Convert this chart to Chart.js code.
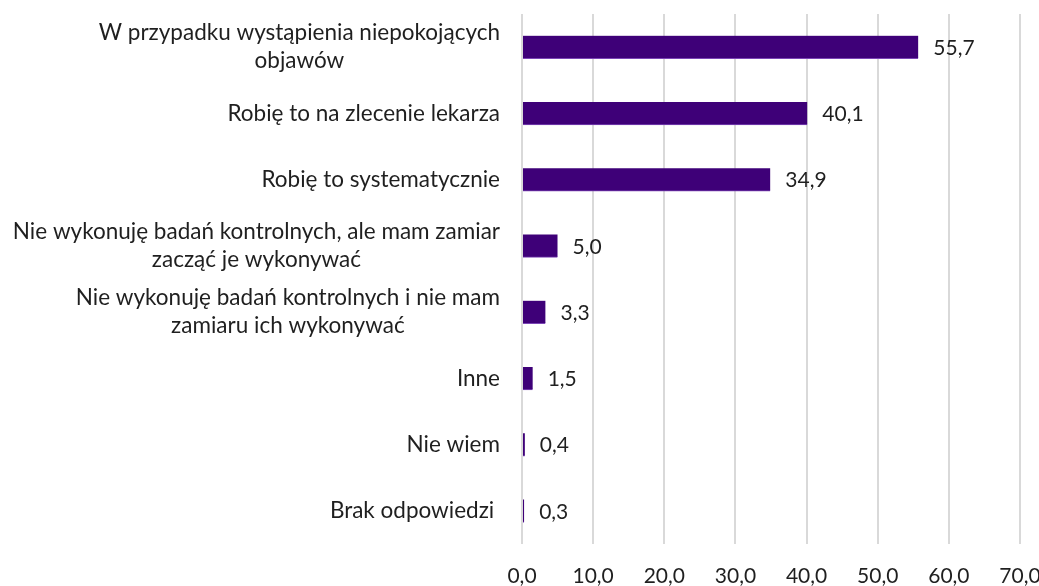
<!DOCTYPE html>
<html>
<head>
<meta charset="utf-8">
<script src="https://cdn.jsdelivr.net/npm/chart.js@4/dist/chart.umd.min.js"></script>
<style>
  html, body { margin: 0; padding: 0; background: #ffffff; }
  #wrap { width: 1039px; height: 586px; position: relative; }
</style>
</head>
<body>
<div id="wrap"><canvas id="c"></canvas></div>
<script>
const categories = [
  ["W przypadku wystąpienia niepokojących", "objawów"],
  ["Robię to na zlecenie lekarza"],
  ["Robię to systematycznie"],
  ["Nie wykonuję badań kontrolnych, ale mam zamiar", "zacząć je wykonywać"],
  ["Nie wykonuję badań kontrolnych i nie mam", "zamiaru ich wykonywać"],
  ["Inne"],
  ["Nie wiem"],
  ["Brak odpowiedzi "]
];
const values = [55.7, 40.1, 34.9, 5.0, 3.3, 1.5, 0.4, 0.3];
const axisMin = 0;
const axisMax = 70;
const axisStep = 10;

const FONT_FAMILY = "Lato, 'Open Sans', sans-serif";
const LABEL_SIZE = 22.5;
const NUM_SIZE = 21;
const TEXT_COLOR = "#1f1f1f";
const fmt = v => v.toFixed(1).replace('.', ',');

const labelPlugin = {
  id: 'customLabels',
  afterDraw(chart) {
    const ctx = chart.ctx;
    const ys = chart.scales.y;
    const xs = chart.scales.x;
    const area = chart.chartArea;
    ctx.save();
    ctx.fillStyle = TEXT_COLOR;
    ctx.textBaseline = 'middle';
    ctx.font = LABEL_SIZE + "px " + FONT_FAMILY;
    const lineH = 28;
    const rightEdge = area.left - 22;
    categories.forEach((lines, i) => {
      const y = ys.getPixelForValue(i);
      const w = Math.max(...lines.map(l => ctx.measureText(l).width));
      const cx = rightEdge - w / 2;
      const y0 = y - (lines.length - 1) * lineH / 2;
      ctx.textAlign = 'center';
      lines.forEach((l, k) => ctx.fillText(l, cx, y0 + k * lineH));
    });
    ctx.font = NUM_SIZE + "px " + FONT_FAMILY;
    ctx.textAlign = 'left';
    values.forEach((v, i) => {
      const y = ys.getPixelForValue(i);
      const x = xs.getPixelForValue(v) + 15;
      ctx.fillText(fmt(v), x, y + 1);
    });
    ctx.restore();
  }
};

new Chart(document.getElementById('c'), {
  type: 'bar',
  data: {
    labels: categories,
    datasets: [{
      data: values,
      backgroundColor: '#3e0078',
      borderColor: '#7b45b5',
      borderWidth: { top: 0, left: 0, right: 0, bottom: 1 },
      borderSkipped: false,
      barThickness: 23
    }]
  },
  options: {
    indexAxis: 'y',
    responsive: true,
    maintainAspectRatio: false,
    animation: false,
    layout: { padding: { left: 522, top: 14, right: 19, bottom: -23 } },
    plugins: { legend: { display: false }, tooltip: { enabled: false } },
    scales: {
      y: { display: false },
      x: {
        min: axisMin,
        max: axisMax,
        border: { display: false },
        grid: { color: '#d9d9d9', lineWidth: 2, drawTicks: false },
        afterFit: s => { s.paddingRight = 0; s.paddingLeft = 0; },
        ticks: {
          stepSize: axisStep,
          padding: 22,
          color: TEXT_COLOR,
          font: { family: FONT_FAMILY, size: NUM_SIZE, lineHeight: 1 },
          callback: v => fmt(v),
          maxRotation: 0
        }
      }
    }
  },
  plugins: [labelPlugin]
});
</script>
</body>
</html>
